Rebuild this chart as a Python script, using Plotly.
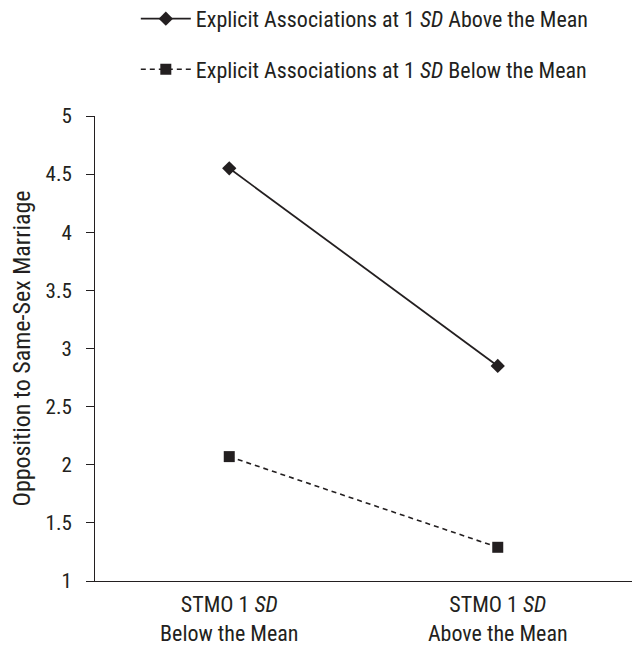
import plotly.graph_objects as go

categories = ["STMO 1 <i>SD</i><br>Below the Mean", "STMO 1 <i>SD</i><br>Above the Mean"]
series_names = ["Explicit Associations at 1 <i>SD</i> Above the Mean",
                "Explicit Associations at 1 <i>SD</i> Below the Mean"]
above_values = [4.55, 2.85]
below_values = [2.07, 1.29]
y_ticks = [1, 1.5, 2, 2.5, 3, 3.5, 4, 4.5, 5]
y_title = "Opposition to Same-Sex Marriage"

FONT = "Roboto Condensed, Liberation Sans Narrow, Arial Narrow, sans-serif"
INK = "#231f20"

fig = go.Figure()
fig.add_trace(go.Scatter(
    x=categories, y=above_values, name=series_names[0], mode="lines+markers",
    line=dict(color=INK, width=1.8),
    marker=dict(symbol="diamond", size=11, color=INK),
    legendgroup="a"))
fig.add_trace(go.Scatter(
    x=categories, y=below_values, name=series_names[1], mode="lines+markers",
    line=dict(color=INK, width=1.6, dash="5px,4px"),
    marker=dict(symbol="square", size=11, color=INK),
    legendgroup="b"))

fig.update_layout(
    width=632, height=651,
    margin=dict(l=95, r=0, t=116, b=70, autoexpand=False),
    paper_bgcolor="white", plot_bgcolor="white",
    font=dict(family=FONT, size=21, color=INK),
    showlegend=True,
    legend=dict(x=0.076, y=1.254, xanchor="left", yanchor="top",
                bgcolor="rgba(0,0,0,0)", tracegroupgap=19, itemwidth=50,
                font=dict(size=22, family=FONT, color=INK)),
    xaxis=dict(type="category", range=[-0.5, 1.5], showline=True, linecolor=INK,
               linewidth=1, ticks="", showgrid=False, zeroline=False,
               ticklabelstandoff=4,
               tickfont=dict(size=22, family=FONT, color=INK)),
    yaxis=dict(range=[1, 5], tickvals=y_ticks, ticktext=[f"{v:g}" for v in y_ticks],
               showline=True, linecolor=INK, linewidth=1, ticks="outside",
               ticklen=8, tickcolor=INK, showgrid=False, zeroline=False,
               ticklabelstandoff=10,
               tickfont=dict(size=21, family=FONT, color=INK),
               title=dict(text=y_title, font=dict(size=24, family=FONT, color=INK), standoff=8)),
)

fig.write_html("out.html", config={"displayModeBar": False},
               post_script="document.body.style.margin='0';")
